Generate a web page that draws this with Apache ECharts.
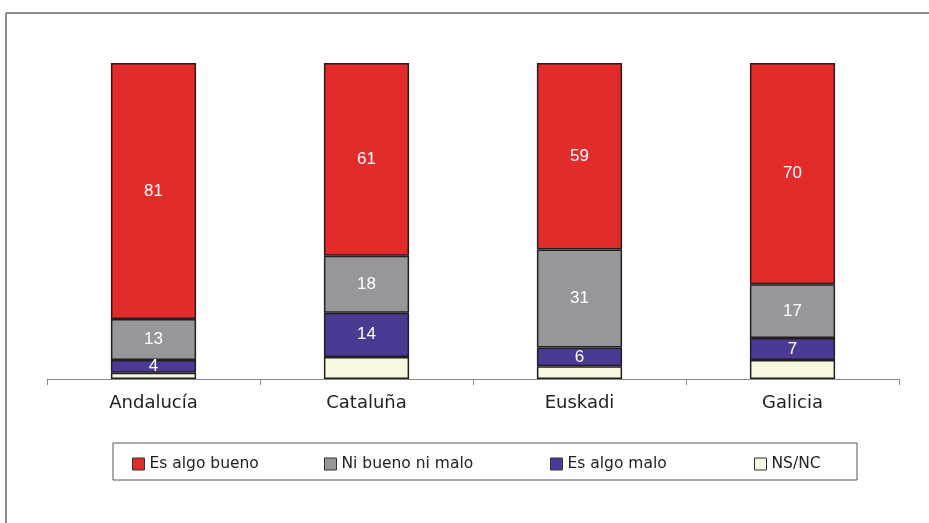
<!DOCTYPE html>
<html>
<head>
<meta charset="utf-8">
<script src="https://cdn.jsdelivr.net/npm/echarts@6/dist/echarts.min.js"></script>
<style>
  html, body { margin: 0; padding: 0; background: #fff; }
  #main { width: 929px; height: 523px; }
</style>
</head>
<body>
<div id="main"></div>
<script>
// regiones
var regiones = ['Andalucía', 'Cataluña', 'Euskadi', 'Galicia'];
// valores por respuesta (%)
var algoBueno = [81, 61, 59, 70];
var niBuenoNiMalo = [13, 18, 31, 17];
var algoMalo = [4, 14, 6, 7];
var nsnc = [2, 7, 4, 6];

var colores = {
  bueno: '#e32b2c',
  ni: '#96979b',
  malo: '#4a3a94',
  nsnc: '#f8f7df'
};

var myChart = echarts.init(document.getElementById('main'));

function serie(nombre, datos, color, etiqueta) {
  return {
    name: nombre,
    type: 'bar',
    stack: 'total',
    barWidth: '40%',
    data: datos,
    itemStyle: {
      color: color,
      borderColor: '#231f20',
      borderWidth: 1.5
    },
    label: {
      show: etiqueta,
      position: 'inside',
      color: '#fff',
      fontFamily: 'Liberation Sans',
      fontSize: 17
    }
  };
}

function leyenda(nombre, x) {
  return {
    data: [nombre],
    left: x,
    top: 451,
    itemWidth: 12,
    itemHeight: 12,
    itemGap: 6,
    icon: 'rect',
    itemStyle: { borderColor: '#333', borderWidth: 1 },
    textStyle: { color: '#222', fontSize: 15.5, fontFamily: 'DejaVu Sans' }
  };
}

var option = {
  animation: false,
  backgroundColor: '#fff',
  grid: { left: 47, right: 30, top: 63, height: 316 },
  graphic: [
    { type: 'line', shape: { x1: 6, y1: 13, x2: 929, y2: 13 }, style: { stroke: '#666', lineWidth: 1.5 } },
    { type: 'line', shape: { x1: 6, y1: 13, x2: 6, y2: 523 }, style: { stroke: '#666', lineWidth: 1.5 } },
    { type: 'rect', shape: { x: 113, y: 443, width: 744, height: 37 }, style: { fill: 'none', stroke: '#555', lineWidth: 1 } }
  ],
  legend: [
    leyenda('Es algo bueno', 127),
    leyenda('Ni bueno ni malo', 319),
    leyenda('Es algo malo', 545),
    leyenda('NS/NC', 749)
  ],
  xAxis: {
    type: 'category',
    data: regiones,
    axisLine: { lineStyle: { color: '#888', width: 1 } },
    axisTick: { show: true, length: 6, lineStyle: { color: '#888' } },
    axisLabel: { color: '#222', fontSize: 18, fontFamily: 'DejaVu Sans', margin: 15 }
  },
  yAxis: {
    type: 'value',
    min: 0,
    max: 100,
    show: false
  },
  series: [
    serie('NS/NC', nsnc, colores.nsnc, false),
    serie('Es algo malo', algoMalo, colores.malo, true),
    serie('Ni bueno ni malo', niBuenoNiMalo, colores.ni, true),
    serie('Es algo bueno', algoBueno, colores.bueno, true)
  ]
};

myChart.setOption(option);
</script>
</body>
</html>
